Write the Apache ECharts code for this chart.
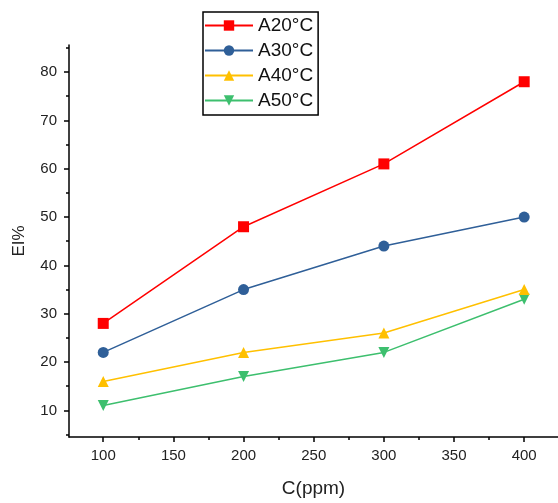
<!DOCTYPE html>
<html>
<head>
<meta charset="utf-8">
<script src="https://cdn.jsdelivr.net/npm/echarts@6/dist/echarts.min.js"></script>
<style>html,body{margin:0;padding:0;background:#fff;}#c{width:558px;height:503px;}</style>
</head>
<body>
<div id="c"></div>
<script>
const concentrations = [100, 200, 300, 400];
const seriesNames = ['A20°C', 'A30°C', 'A40°C', 'A50°C'];
const a20 = [28, 48, 61, 78];
const a30 = [22, 35, 44, 50];
const a40 = [16, 22, 26, 35];
const a50 = [11, 17, 22, 33];
const xMajorTicks = [100, 150, 200, 250, 300, 350, 400];
const xMinorTicks = [125, 175, 225, 275, 325, 375];
const yMajorTicks = [10, 20, 30, 40, 50, 60, 70, 80];
const yMinorTicks = [5, 15, 25, 35, 45, 55, 65, 75, 85];

const colors = ['#ff0000', '#2f5f98', '#ffc000', '#3dbf6e'];
const symbols = ['rect', 'circle', 'triangle', 'triangle'];
const rotates = [0, 0, 0, 180];
const values = [a20, a30, a40, a50];

const xMin = 75.6, xMax = 424.1, yMin = 4.5, yMax = 85.6;
const axisLine = {show: true, lineStyle: {color: '#000', width: 1.5}};
const font = 'Arial, "Liberation Sans", sans-serif';

const chart = echarts.init(document.getElementById('c'), null, {renderer: 'canvas'});
chart.setOption({
  animation: false,
  backgroundColor: '#fff',
  color: colors,
  grid: {left: 69, right: 0, top: 45, bottom: 61, containLabel: false},
  legend: {
    orient: 'vertical', left: 203, top: 12,
    padding: [4, 5, 5, 1],
    borderColor: '#000', borderWidth: 1.5,
    itemWidth: 48, itemHeight: 13, itemGap: 6,
    textStyle: {fontSize: 19, color: '#111', fontFamily: font},
    data: seriesNames
  },
  xAxis: [{
    type: 'value', min: xMin, max: xMax,
    name: 'C(ppm)', nameLocation: 'middle', nameGap: 42,
    nameTextStyle: {fontSize: 19, color: '#222', fontFamily: font},
    axisLine: axisLine,
    axisTick: {show: true, inside: false, length: 5, customValues: xMajorTicks, lineStyle: {color: '#000', width: 1.5}},
    axisLabel: {show: true, margin: 11, fontSize: 15, color: '#222', fontFamily: font, customValues: xMajorTicks},
    splitLine: {show: false}
  }, {
    type: 'value', min: xMin, max: xMax, position: 'bottom',
    axisLine: {show: false},
    axisTick: {show: true, length: 3, customValues: xMinorTicks, lineStyle: {color: '#000', width: 1.5}},
    axisLabel: {show: false},
    splitLine: {show: false}
  }],
  yAxis: [{
    type: 'value', min: yMin, max: yMax,
    name: 'EI%', nameLocation: 'middle', nameGap: 41,
    nameTextStyle: {fontSize: 17, color: '#222', fontFamily: font},
    axisLine: axisLine,
    axisTick: {show: true, length: 5, customValues: yMajorTicks, lineStyle: {color: '#000', width: 1.5}},
    axisLabel: {show: true, margin: 12, fontSize: 15, color: '#222', fontFamily: font, customValues: yMajorTicks},
    splitLine: {show: false}
  }, {
    type: 'value', min: yMin, max: yMax, position: 'left',
    axisLine: {show: false},
    axisTick: {show: true, length: 3, customValues: yMinorTicks, lineStyle: {color: '#000', width: 1.5}},
    axisLabel: {show: false},
    splitLine: {show: false}
  }],
  series: seriesNames.map((name, i) => ({
    name: name, type: 'line',
    xAxisIndex: 0, yAxisIndex: 0,
    data: concentrations.map((c, j) => [c, values[i][j]]),
    symbol: symbols[i], symbolSize: 11, symbolRotate: rotates[i],
    showAllSymbol: true,
    lineStyle: {color: colors[i], width: 1.5},
    itemStyle: {color: colors[i]},
    z: 10 - i
  }))
});
</script>
</body>
</html>
